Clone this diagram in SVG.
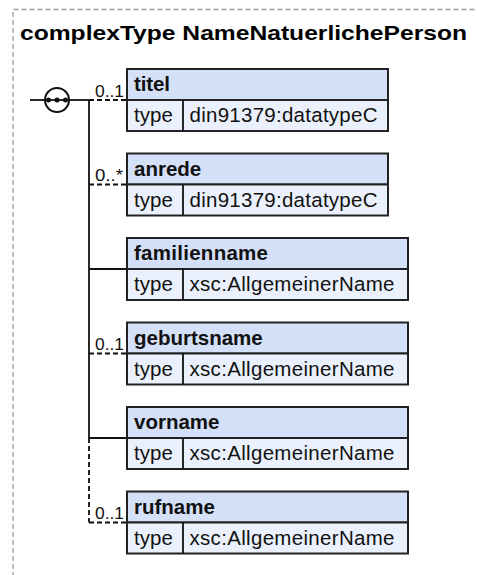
<svg xmlns="http://www.w3.org/2000/svg" width="477" height="575" viewBox="0 0 477 575">
<style>
.frame{fill:none;stroke:#999;stroke-width:1.3;stroke-dasharray:5,3}
.title{font-family:"Liberation Sans",Arial,sans-serif;font-weight:bold;font-size:21px;fill:#000}
.hd{fill:#d4e0f7;stroke:#222;stroke-width:2}
.row{fill:#ebf1fc;stroke:#222;stroke-width:2}
.bt{font-family:"Liberation Sans",Arial,sans-serif;font-weight:bold;font-size:20.5px;fill:#111}
.rt{font-family:"Liberation Sans",Arial,sans-serif;font-size:20.5px;fill:#111}
.lbl{font-family:"Liberation Sans",Arial,sans-serif;font-size:16px;fill:#111}
.ln{stroke:#111;stroke-width:1.8;fill:none}
.dl{stroke:#111;stroke-width:1.8;fill:none;stroke-dasharray:5,3}
</style>
<path class="frame" d="M13,585 V9.5 H480"/>
<text class="title" x="20" y="40" textLength="447" lengthAdjust="spacingAndGlyphs">complexType NameNatuerlichePerson</text>

<g id="sequence">
<line class="ln" x1="30" y1="100" x2="45" y2="100"/>
<circle cx="57" cy="100" r="12" fill="#fff" stroke="#111" stroke-width="2"/>
<line class="ln" x1="47" y1="100" x2="67" y2="100"/>
<circle cx="48.5" cy="100" r="2.5" fill="#111"/>
<circle cx="57" cy="100" r="2.5" fill="#111"/>
<circle cx="65.5" cy="100" r="2.5" fill="#111"/>
</g>

<g id="connectors">
<line class="ln" x1="69" y1="100" x2="89" y2="100"/>
<line class="ln" x1="89" y1="100" x2="89" y2="438"/>
<line class="dl" x1="89" y1="438" x2="89" y2="522.5"/>
<line class="dl" x1="89" y1="100" x2="127" y2="100"/>
<line class="dl" x1="89" y1="184.5" x2="127" y2="184.5"/>
<line class="ln" x1="89" y1="269" x2="127" y2="269"/>
<line class="dl" x1="89" y1="353.5" x2="127" y2="353.5"/>
<line class="ln" x1="89" y1="438" x2="127" y2="438"/>
<line class="dl" x1="89" y1="522.5" x2="127" y2="522.5"/>
<text class="lbl" x="95" y="96.5" textLength="29" lengthAdjust="spacingAndGlyphs">0..1</text>
<text class="lbl" x="95" y="181" textLength="28" lengthAdjust="spacingAndGlyphs">0..*</text>
<text class="lbl" x="95" y="350" textLength="29" lengthAdjust="spacingAndGlyphs">0..1</text>
<text class="lbl" x="95" y="519" textLength="29" lengthAdjust="spacingAndGlyphs">0..1</text>
</g>

<g id="titel">
<rect class="hd" x="127" y="69" width="261" height="31"/>
<rect class="row" x="127" y="100" width="261" height="31"/>
<line class="ln" x1="183" y1="100" x2="183" y2="131" stroke-width="2"/>
<text class="bt" x="134" y="91" textLength="36">titel</text>
<text class="rt" x="134" y="122" textLength="39">type</text>
<text class="rt" x="189.5" y="122" textLength="188">din91379:datatypeC</text>
</g>

<g id="anrede">
<rect class="hd" x="127" y="153.5" width="261" height="31"/>
<rect class="row" x="127" y="184.5" width="261" height="31"/>
<line class="ln" x1="183" y1="184.5" x2="183" y2="215.5" stroke-width="2"/>
<text class="bt" x="134" y="175.5">anrede</text>
<text class="rt" x="134" y="206.5" textLength="39">type</text>
<text class="rt" x="189.5" y="206.5" textLength="188">din91379:datatypeC</text>
</g>

<g id="familienname">
<rect class="hd" x="127" y="238" width="281" height="31"/>
<rect class="row" x="127" y="269" width="281" height="31"/>
<line class="ln" x1="183" y1="269" x2="183" y2="300" stroke-width="2"/>
<text class="bt" x="134" y="260" textLength="134">familienname</text>
<text class="rt" x="134" y="291" textLength="39">type</text>
<text class="rt" x="189.5" y="291" textLength="205">xsc:AllgemeinerName</text>
</g>

<g id="geburtsname">
<rect class="hd" x="127" y="322.5" width="281" height="31"/>
<rect class="row" x="127" y="353.5" width="281" height="31"/>
<line class="ln" x1="183" y1="353.5" x2="183" y2="384.5" stroke-width="2"/>
<text class="bt" x="134" y="344.5">geburtsname</text>
<text class="rt" x="134" y="375.5" textLength="39">type</text>
<text class="rt" x="189.5" y="375.5" textLength="205">xsc:AllgemeinerName</text>
</g>

<g id="vorname">
<rect class="hd" x="127" y="407" width="281" height="31"/>
<rect class="row" x="127" y="438" width="281" height="31"/>
<line class="ln" x1="183" y1="438" x2="183" y2="469" stroke-width="2"/>
<text class="bt" x="134" y="429">vorname</text>
<text class="rt" x="134" y="460" textLength="39">type</text>
<text class="rt" x="189.5" y="460" textLength="205">xsc:AllgemeinerName</text>
</g>

<g id="rufname">
<rect class="hd" x="127" y="491.5" width="281" height="31"/>
<rect class="row" x="127" y="522.5" width="281" height="31"/>
<line class="ln" x1="183" y1="522.5" x2="183" y2="553.5" stroke-width="2"/>
<text class="bt" x="134" y="513.5">rufname</text>
<text class="rt" x="134" y="544.5" textLength="39">type</text>
<text class="rt" x="189.5" y="544.5" textLength="205">xsc:AllgemeinerName</text>
</g>
</svg>
